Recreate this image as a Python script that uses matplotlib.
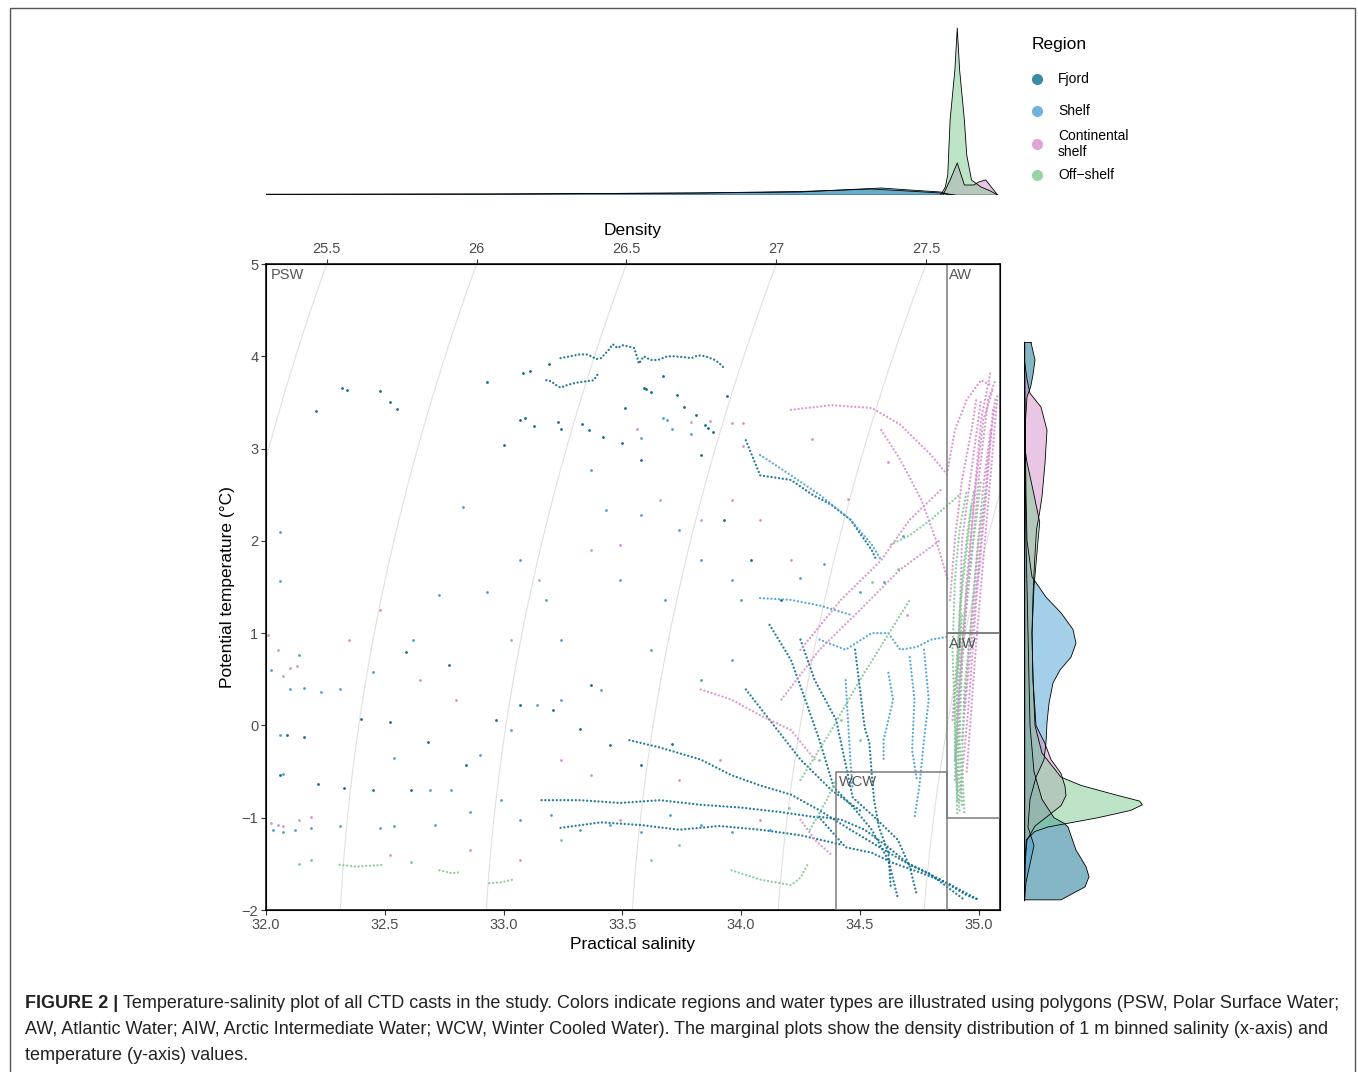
import numpy as np
import matplotlib.pyplot as plt
from matplotlib.lines import Line2D
from matplotlib.patches import Rectangle

plt.rcParams['font.family'] = ['Liberation Sans', 'DejaVu Sans']

# ---- regions / colours
regions = ['Fjord', 'Shelf', 'Continental\nshelf', 'Off\u2212shelf']
colors = ['#0b6e8e', '#4aa0d5', '#d68fcc', '#7fca93']

# ---- main T-S data: dense cast traces (salinity list, temperature list)
fjord_traces = [
    ([33.24, 33.28, 33.32, 33.35, 33.37, 33.39, 33.41, 33.44, 33.46, 33.48, 33.50, 33.52, 33.55, 33.56,
      33.57, 33.59, 33.62, 33.65, 33.69, 33.72, 33.76, 33.79, 33.82, 33.85, 33.89, 33.91, 33.93],
     [3.98, 4.00, 4.02, 4.02, 4.00, 3.97, 3.98, 4.06, 4.13, 4.09, 4.12, 4.11, 4.09, 4.01,
      3.92, 4.00, 3.96, 3.96, 4.00, 4.00, 3.99, 3.98, 4.01, 4.00, 3.96, 3.92, 3.87]),
    ([33.18, 33.20, 33.22, 33.24, 33.27, 33.30, 33.32, 33.35, 33.38, 33.39, 33.40],
     [3.74, 3.73, 3.69, 3.66, 3.69, 3.71, 3.72, 3.73, 3.74, 3.78, 3.82]),
    ([33.53, 33.66, 33.83, 33.96, 34.08, 34.21, 34.33, 34.46, 34.59, 34.71, 34.84, 34.95, 35.00],
     [-0.16, -0.24, -0.37, -0.54, -0.65, -0.75, -0.92, -1.13, -1.33, -1.51, -1.67, -1.84, -1.89]),
    ([33.16, 33.32, 33.49, 33.66, 33.83, 34.00, 34.17, 34.33, 34.44, 34.55, 34.64, 34.76, 34.87, 35.00],
     [-0.81, -0.81, -0.84, -0.81, -0.86, -0.89, -0.94, -1.00, -1.32, -1.38, -1.49, -1.60, -1.71, -1.89]),
    ([34.33, 34.42, 34.52, 34.62, 34.70, 34.79, 34.94],
     [-0.99, -1.02, -1.13, -1.32, -1.49, -1.60, -1.89]),
    ([34.12, 34.21, 34.27, 34.33, 34.39, 34.47, 34.55, 34.62, 34.66],
     [1.09, 0.71, 0.28, -0.16, -0.67, -0.88, -1.13, -1.46, -1.87]),
    ([34.25, 34.31, 34.40, 34.47, 34.56, 34.66, 34.71, 34.74],
     [0.93, 0.49, 0.06, -0.78, -0.99, -1.24, -1.53, -1.84]),
    ([34.48, 34.52, 34.54, 34.55, 34.56, 34.58, 34.62, 34.63],
     [0.82, -0.02, -0.19, -0.52, -0.81, -1.10, -1.38, -1.75]),
    ([34.02, 34.12, 34.25, 34.38, 34.50],
     [0.39, 0.06, -0.37, -0.70, -0.92]),
    ([33.24, 33.41, 33.58, 33.74, 33.91, 34.08, 34.25, 34.42],
     [-1.11, -1.05, -1.08, -1.13, -1.09, -1.13, -1.19, -1.29]),
    ([34.02, 34.08, 34.21, 34.30, 34.38, 34.46, 34.55, 34.57],
     [3.09, 2.71, 2.66, 2.50, 2.39, 2.23, 1.90, 1.79]),
]
fjord_s = [33.08, 33.11, 33.19, 32.21, 32.32, 32.34, 32.48, 32.52, 32.55, 32.93, 33.00, 33.07, 33.09, 33.13,
           33.23, 33.24, 33.33, 33.36, 33.42, 33.51, 33.50, 33.59, 33.60, 33.62, 33.67, 33.73, 33.76, 33.81,
           33.85, 33.86, 33.88, 33.94, 33.58, 33.83, 33.93, 34.04, 34.17, 32.59, 32.77, 32.40, 32.52, 32.16,
           32.09, 32.06, 32.22, 32.33, 32.45, 32.61, 32.68, 32.84, 32.97, 33.07, 33.21, 33.32, 33.45, 33.58,
           33.71, 33.37]
fjord_t = [3.82, 3.84, 3.92, 3.41, 3.66, 3.64, 3.62, 3.51, 3.43, 3.72, 3.04, 3.31, 3.33, 3.24,
           3.29, 3.21, 3.27, 3.20, 3.13, 3.44, 3.06, 3.66, 3.65, 3.61, 3.79, 3.58, 3.45, 3.36,
           3.26, 3.22, 3.18, 3.57, 2.88, 2.93, 2.23, 1.79, 1.36, 0.80, 0.66, 0.07, 0.04, -0.13,
           -0.10, -0.54, -0.64, -0.68, -0.70, -0.70, -0.18, -0.43, 0.06, 0.22, 0.17, -0.04, -0.21, -0.43,
           -0.20, 0.44]

shelf_traces = [
    ([34.33, 34.44, 34.55, 34.62, 34.67, 34.74, 34.80, 34.87],
     [0.93, 0.82, 1.00, 1.00, 0.82, 0.85, 0.93, 0.96]),
    ([34.71, 34.73, 34.72, 34.74], [0.74, 0.28, -0.27, -0.59]),
    ([34.77, 34.79, 34.77, 34.75, 34.73], [0.82, 0.28, -0.16, -0.67, -1.00]),
    ([34.62, 34.64, 34.60, 34.60], [0.57, 0.28, -0.16, -0.37]),
    ([34.08, 34.21, 34.33, 34.46, 34.55, 34.59], [2.93, 2.71, 2.50, 2.23, 1.96, 1.79]),
    ([34.08, 34.21, 34.33, 34.46], [1.38, 1.36, 1.30, 1.20]),
    ([34.44, 34.45, 34.46, 34.47], [0.49, 0.06, -0.37, -0.70]),
]
shelf_s = [33.67, 33.69, 33.71, 33.79, 33.58, 32.06, 32.06, 32.02, 32.14, 32.10, 32.06, 32.07, 32.03, 32.07,
           32.12, 32.19, 32.31, 32.48, 32.54, 32.16, 32.23, 32.45, 32.62, 32.73, 32.83, 32.93, 33.07, 33.18,
           33.24, 33.37, 33.43, 33.58, 33.74, 33.83, 33.96, 34.00, 33.68, 33.49, 33.24, 33.41, 33.62, 33.83,
           33.96, 32.90, 33.03, 33.14, 32.78, 32.86, 32.99, 33.07, 33.20, 33.32, 33.45, 33.58, 33.70, 33.83,
           33.96, 34.12, 32.71, 32.69, 32.54, 32.31, 34.25, 34.35, 34.50, 34.60, 34.68]
shelf_t = [3.33, 3.31, 3.21, 3.16, 3.11, 2.10, 1.57, 0.60, 0.76, 0.39, -0.10, -0.53, -1.13, -1.15,
           -1.13, -1.11, -1.09, -1.11, -1.09, 0.41, 0.36, 0.58, 0.93, 1.41, 2.37, 1.45, 1.79, 1.36,
           0.93, 2.77, 2.33, 2.28, 2.12, 1.79, 1.58, 1.36, 1.36, 1.58, 0.28, 0.38, 0.82, 0.49,
           0.71, -0.32, -0.05, 0.22, -0.70, -0.94, -0.81, -1.02, -0.97, -1.13, -1.08, -1.15, -0.97, -1.08,
           -1.15, -1.13, -1.08, -0.70, -0.35, 0.39, 1.60, 1.75, 1.45, 1.55, 2.05]

cont_traces = [
    ([34.91, 34.92, 34.95, 34.98, 35.01, 35.05], [-0.70, 0.28, 1.36, 2.44, 3.31, 3.83]),
    ([34.90, 34.93, 34.97, 35.00, 35.04, 35.07], [-0.37, 0.82, 1.79, 2.66, 3.53, 3.74]),
    ([34.89, 34.92, 34.93, 34.97, 35.01], [0.06, 1.14, 2.01, 2.77, 3.53]),
    ([34.92, 34.96, 34.99, 35.03, 35.06], [-0.81, 0.28, 1.36, 2.44, 3.42]),
    ([34.88, 34.90, 34.93, 34.97, 34.99], [1.36, 2.01, 2.66, 3.20, 3.53]),
    ([34.87, 34.90, 34.95, 35.01, 35.05], [2.77, 3.20, 3.53, 3.74, 3.69]),
    ([34.90, 34.92, 34.95, 34.99, 35.02, 35.06], [-0.59, 0.49, 1.58, 2.66, 3.31, 3.64]),
    ([34.93, 34.97, 35.01, 35.04, 35.07], [-0.16, 0.93, 2.01, 2.88, 3.53]),
    ([34.95, 34.99, 35.03, 35.06, 35.08], [-0.50, 0.90, 2.10, 3.00, 3.60]),
    ([34.94, 34.98, 35.02, 35.05], [0.20, 1.50, 2.60, 3.20]),
    ([34.21, 34.38, 34.55, 34.67, 34.80, 34.87], [3.42, 3.47, 3.44, 3.26, 2.93, 2.71]),
    ([34.59, 34.67, 34.76, 34.82, 34.87], [3.20, 2.88, 2.44, 2.01, 1.58]),
    ([34.25, 34.42, 34.59, 34.71, 34.84], [0.82, 1.36, 1.79, 2.23, 2.55]),
    ([34.17, 34.33, 34.50, 34.67, 34.84], [0.28, 0.82, 1.25, 1.69, 2.01]),
    ([33.83, 33.96, 34.08, 34.21, 34.31], [0.39, 0.28, 0.11, -0.05, -0.37]),
    ([34.25, 34.31, 34.38], [-1.02, -1.24, -1.40]),
]
cont_s = [33.56, 33.79, 33.87, 33.96, 34.01, 34.01, 32.01, 32.05, 32.07, 32.10, 32.13, 32.02, 32.05, 32.07,
          32.14, 32.19, 32.35, 32.48, 32.65, 32.80, 33.03, 33.15, 33.37, 33.49, 33.66, 33.83, 33.96, 34.08,
          34.21, 32.86, 33.07, 32.52, 33.49, 33.74, 33.91, 34.08, 33.37, 33.24, 34.45, 34.62, 34.30, 34.70]
cont_t = [3.21, 3.29, 3.30, 3.28, 3.28, 3.03, 0.98, 0.82, 0.54, 0.62, 0.64, -1.06, -1.08, -1.09,
          -1.02, -0.99, 0.93, 1.25, 0.49, 0.28, 0.93, 1.58, 1.90, 1.96, 2.44, 2.23, 2.44, 2.23,
          1.79, -1.35, -1.46, -1.40, -1.02, -0.59, -0.37, -1.02, -0.54, -0.37, 2.45, 2.85, 3.10, 1.20]

off_traces = [
    ([34.92, 34.90, 34.90, 34.92, 34.93, 34.96, 34.98], [-0.92, -0.37, 0.28, 0.93, 1.58, 2.23, 2.55]),
    ([34.91, 34.90, 34.89, 34.90, 34.92, 34.95], [-0.81, 0.06, 0.82, 1.58, 2.12, 2.55]),
    ([34.93, 34.92, 34.93, 34.95, 34.99, 35.01], [-0.86, -0.16, 0.71, 1.47, 2.23, 2.66]),
    ([34.92, 34.91, 34.91, 34.92, 34.95, 34.97], [-0.70, -0.05, 0.60, 1.25, 1.90, 2.39]),
    ([34.94, 34.93, 34.94, 34.97, 35.00, 35.03], [-0.94, -0.37, 0.39, 1.14, 2.01, 2.55]),
    ([34.91, 34.905, 34.91, 34.93], [-0.95, -0.50, 0.40, 1.20]),
    ([34.63, 34.71, 34.80, 34.87, 34.92], [1.96, 2.06, 2.23, 2.39, 2.50]),
    ([34.25, 34.38, 34.50, 34.63, 34.71], [-0.59, -0.05, 0.49, 1.03, 1.36]),
    ([34.29, 34.36, 34.40], [-1.13, -0.81, -0.59]),
    ([33.96, 34.08, 34.21, 34.25, 34.28], [-1.57, -1.67, -1.73, -1.65, -1.51]),
    ([32.31, 32.38, 32.44, 32.50], [-1.51, -1.53, -1.52, -1.51]),
    ([32.73, 32.78, 32.82], [-1.57, -1.60, -1.59]),
    ([32.94, 32.99, 33.04], [-1.71, -1.70, -1.67]),
]
off_s = [32.61, 32.19, 32.14, 33.24, 33.62, 33.74, 34.33, 34.42, 34.50, 34.55, 34.66, 34.20]
off_t = [-1.48, -1.46, -1.50, -1.24, -1.46, -1.30, -0.37, 0.06, -0.16, 1.55, 1.70, -0.90]

all_traces = [fjord_traces, shelf_traces, cont_traces, off_traces]
all_s = [fjord_s, shelf_s, cont_s, off_s]
all_t = [fjord_t, shelf_t, cont_t, off_t]

# ---- marginal densities (relative), salinity on top
sal_fjord_x = [32.0, 33.0, 33.8, 34.25, 34.55, 34.70, 34.84, 34.90]
sal_fjord_y = [0.8, 1.0, 2.0, 3.5, 6.0, 4.0, 2.0, 0.0]
sal_shelf_x = [32.0, 32.99, 33.83, 34.25, 34.42, 34.59, 34.71, 34.84, 34.88]
sal_shelf_y = [0.5, 1.0, 2.0, 3.0, 5.0, 7.0, 5.0, 3.0, 0.0]
sal_cont_x = [34.85, 34.88, 34.91, 34.94, 34.98, 35.00, 35.03, 35.08]
sal_cont_y = [0.0, 15.0, 32.0, 10.0, 10.0, 13.0, 15.0, 0.0]
sal_off_x = [34.84, 34.86, 34.87, 34.88, 34.90, 34.91, 34.92, 34.94, 34.95, 34.97, 35.01, 35.05, 35.08]
sal_off_y = [0.0, 8.0, 20.0, 75.0, 125.0, 167.0, 125.0, 75.0, 40.0, 15.0, 8.0, 4.0, 0.0]

# ---- marginal densities (relative), temperature on the right
tmp_fjord_t = [4.15, 3.96, 3.80, 3.67, 3.56, 3.30, 3.00, 2.50, 2.00, 1.50, 1.00, 0.50, 0.00, -0.50,
               -0.80, -1.00, -1.06, -1.10, -1.35, -1.53, -1.64, -1.75, -1.89]
tmp_fjord_w = [7, 11, 9, 6.7, 3, 1.5, 1, 1.5, 2, 3, 4, 5, 6, 10,
               18, 30, 40, 44, 52, 62, 65, 61, 37]
tmp_shelf_t = [4.15, 3.50, 3.00, 2.50, 2.00, 1.61, 1.39, 1.22, 1.04, 0.89, 0.74, 0.60, 0.46, 0.24,
               0.03, -0.19, -0.37, -0.56, -0.80, -1.10, -1.30, -1.50, -1.70, -1.89]
tmp_shelf_w = [0.3, 1, 1.5, 2, 3, 8, 22, 37, 49, 52, 47, 36, 29, 25,
               23, 22, 20, 12, 6, 4, 10, 6, 2, 0.5]
tmp_cont_t = [4.15, 3.95, 3.75, 3.60, 3.45, 3.20, 2.84, 2.48, 2.30, 2.12, 1.76, 1.40, 1.00, 0.50,
              0.00, -0.19, -0.37, -0.52, -0.66, -0.76, -0.87, -0.98, -1.09, -1.24, -1.50, -1.89]
tmp_cont_w = [0.2, 0.5, 3, 6, 17, 23, 21, 18, 15.5, 12.5, 10.5, 9, 8, 9,
              12, 20.7, 27, 37, 41, 42, 37, 24, 11, 3, 1, 0.3]
tmp_off_t = [4.15, 3.50, 3.00, 2.85, 2.50, 2.20, 2.00, 1.50, 1.00, 0.50, 0.00, -0.30, -0.56, -0.65,
             -0.75, -0.82, -0.86, -0.92, -1.00, -1.06, -1.10, -1.15, -1.24, -1.50, -1.89]
tmp_off_w = [0.1, 0.3, 1, 3, 10, 15.7, 14, 10, 8, 9, 11, 18, 37, 57,
             90.7, 115.7, 118.3, 107, 74, 44, 24, 10.7, 2.3, 1, 0.3]

sal_dens = [(sal_fjord_x, sal_fjord_y), (sal_shelf_x, sal_shelf_y), (sal_cont_x, sal_cont_y), (sal_off_x, sal_off_y)]
tmp_dens = [(tmp_fjord_t, tmp_fjord_w), (tmp_shelf_t, tmp_shelf_w), (tmp_cont_t, tmp_cont_w), (tmp_off_t, tmp_off_w)]

# ---- water mass polygons
aw_box = [(34.865, 1.0), (35.09, 1.0), (35.09, 5.0), (34.865, 5.0)]
aiw_box = [(34.865, -1.0), (35.09, -1.0), (35.09, 1.0), (34.865, 1.0)]
wcw_box = [(34.40, -2.0), (34.865, -2.0), (34.865, -0.5), (34.40, -0.5)]

xticks = [32.0, 32.5, 33.0, 33.5, 34.0, 34.5, 35.0]
yticks = [-2, -1, 0, 1, 2, 3, 4, 5]
dens_levels = [25.5, 26.0, 26.5, 27.0, 27.5, 28.0]
dens_labels = ['25.5', '26', '26.5', '27', '27.5']


def sigma_t(S, T):
    # UNESCO 1981 one-atmosphere density, minus 1000
    rw = (999.842594 + 6.793952e-2 * T - 9.095290e-3 * T**2 + 1.001685e-4 * T**3
          - 1.120083e-6 * T**4 + 6.536332e-9 * T**5)
    A = 8.24493e-1 - 4.0899e-3 * T + 7.6438e-5 * T**2 - 8.2467e-7 * T**3 + 5.3875e-9 * T**4
    B = -5.72466e-3 + 1.0227e-4 * T - 1.6546e-6 * T**2
    C = 4.8314e-4
    return rw + A * S + B * S**1.5 + C * S**2 - 1000.0


W, H = 1358, 1072
fig = plt.figure(figsize=(W / 100, H / 100), dpi=100)

def fx(px):
    return px / W

def fy(py):
    return 1 - py / H

# figure frame
fig.add_artist(Rectangle((fx(10), -0.01), fx(1355) - fx(10), fy(8) + 0.01, transform=fig.transFigure,
                         fill=False, edgecolor='#555555', linewidth=1.0))

ax = fig.add_axes([fx(266), fy(910), fx(1000) - fx(266), fy(264) - fy(910)])
ax.set_xlim(32.0, 35.09)
ax.set_ylim(-2, 5)

# isopycnals
sg, tg = np.meshgrid(np.linspace(31.8, 35.3, 300), np.linspace(-2.5, 5.5, 300))
ax.contour(sg, tg, sigma_t(sg, tg), levels=dens_levels, colors='#e0e0e0', linewidths=0.8, zorder=1)

for k in range(4):
    for s, t in all_traces[k]:
        ax.plot(s, t, color=colors[k], linestyle=(0, (0.01, 1.6)), linewidth=1.7,
                dash_capstyle='round', alpha=0.9, zorder=2 + k)
    ax.plot(all_s[k], all_t[k], 'o', color=colors[k], markersize=2.0, markeredgewidth=0, zorder=2 + k)

for box in [aw_box, aiw_box, wcw_box]:
    ax.add_patch(plt.Polygon(box, closed=True, fill=False, edgecolor='#7a7a7a', linewidth=1.1, zorder=7))

lab_kw = dict(fontsize=10.5, color='#555555', va='top', ha='left', zorder=8)
ax.text(32.02, 4.96, 'PSW', **lab_kw)
ax.text(34.875, 4.96, 'AW', **lab_kw)
ax.text(34.875, 0.96, 'AIW', **lab_kw)
ax.text(34.41, -0.54, 'WCW', **lab_kw)

ax.set_xticks(xticks)
ax.set_xticklabels(['%.1f' % v for v in xticks])
ax.set_yticks(yticks)
ax.tick_params(labelsize=10.5, labelcolor='#4d4d4d', color='#333333', length=3.5, width=0.8, pad=2)
for sp in ax.spines.values():
    sp.set_linewidth(1.1)
ax.set_xlabel('Practical salinity', fontsize=12.5, labelpad=4)
ax.set_ylabel('Potential temperature (\u00b0C)', fontsize=12.5, labelpad=5)

# density axis on top
s_fine = np.linspace(31.5, 35.5, 4001)
top_pos = np.interp([float(v) for v in dens_labels], sigma_t(s_fine, 5.0), s_fine)
axt = ax.twiny()
axt.set_xlim(ax.get_xlim())
axt.set_xticks(top_pos)
axt.set_xticklabels(dens_labels)
axt.tick_params(labelsize=10.5, labelcolor='#4d4d4d', color='#333333', length=3.5, width=0.8, pad=2)
axt.set_xlabel('Density', fontsize=12.5, labelpad=5)

# top marginal (salinity)
axm = fig.add_axes([fx(266), fy(195), fx(1000) - fx(266), fy(25) - fy(195)])
axm.set_xlim(ax.get_xlim())
axm.set_ylim(0, 170)
for k, (x, y) in enumerate(sal_dens):
    axm.fill_between(x, 0, y, facecolor=colors[k], alpha=0.5, edgecolor='none')
    axm.plot(x, y, color='black', linewidth=0.6)
axm.plot([32.0, 35.08], [0, 0], color='black', linewidth=1.0)
axm.axis('off')

# right marginal (temperature)
axr = fig.add_axes([fx(1024), fy(910), fx(1154) - fx(1024), fy(264) - fy(910)])
axr.set_ylim(-2, 5)
axr.set_xlim(0, 130)
for k, (t, w) in enumerate(tmp_dens):
    axr.fill_betweenx(t, 0, w, facecolor=colors[k], alpha=0.5, edgecolor='none')
    axr.plot(list(w) + [0], list(t) + [t[-1]], color='black', linewidth=0.6)
    axr.plot([0, w[0]], [t[0], t[0]], color='black', linewidth=0.6)
axr.plot([0, 0], [-1.89, 4.15], color='black', linewidth=1.0)
axr.axis('off')

# legend
fig.text(fx(1032), fy(45), 'Region', fontsize=12.5, va='center', ha='left')
leg_y = [79, 111, 144, 175]
for k in range(4):
    fig.add_artist(Line2D([fx(1037)], [fy(leg_y[k])], marker='o', markersize=8, color=colors[k],
                          alpha=0.8, markeredgewidth=0, transform=fig.transFigure))
    fig.text(fx(1058), fy(leg_y[k]), regions[k], fontsize=10, va='center', ha='left', linespacing=1.15)

# caption
cap_font = ['Liberation Sans', 'DejaVu Sans']
t1 = fig.text(fx(25), fy(1004), 'FIGURE 2 |', fontsize=13, fontweight='bold', family=cap_font,
              va='center', ha='left', color='#222222')
fig.canvas.draw()
bb = t1.get_window_extent(fig.canvas.get_renderer())
fig.text(bb.x1 / W + fx(5), fy(1004),
         'Temperature-salinity plot of all CTD casts in the study. Colors indicate regions and water types '
         'are illustrated using polygons (PSW, Polar Surface Water;',
         fontsize=13, family=cap_font, va='center', ha='left', color='#222222')
fig.text(fx(25), fy(1030),
         'AW, Atlantic Water; AIW, Arctic Intermediate Water; WCW, Winter Cooled Water). The marginal plots '
         'show the density distribution of 1 m binned salinity (x-axis) and',
         fontsize=13, family=cap_font, va='center', ha='left', color='#222222')
fig.text(fx(25), fy(1055), 'temperature (y-axis) values.',
         fontsize=13, family=cap_font, va='center', ha='left', color='#222222')

fig.savefig('out.png', dpi=100)
